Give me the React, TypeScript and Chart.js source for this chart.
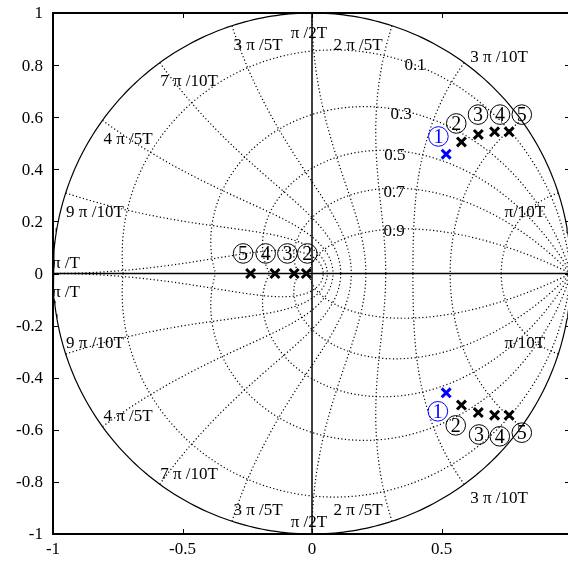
import React, { useEffect, useRef } from 'react';
import { Chart, registerables } from 'chart.js';

Chart.register(...registerables);

// ---- axis ticks ----
const xTicks = [-1, -0.5, 0, 0.5, 1];
const xTickLabels = ['-1', '-0.5', '0', '0.5', '1'];
const yTicks = [-1, -0.8, -0.6, -0.4, -0.2, 0, 0.2, 0.4, 0.6, 0.8, 1];
const yTickLabels = ['-1', '-0.8', '-0.6', '-0.4', '-0.2', '0', '0.2', '0.4', '0.6', '0.8', '1'];

// ---- z-plane grid ----
const zetaValues = [0.1, 0.3, 0.5, 0.7, 0.9];
const zetaLabels = ['0.1', '0.3', '0.5', '0.7', '0.9'];
const zetaLabelX = [0.398, 0.344, 0.32, 0.317, 0.317];
const zetaLabelY = [0.802, 0.614, 0.457, 0.315, 0.165];

const wnMultiples = [1, 2, 3, 4, 5, 6, 7, 8, 9, 10]; // wn*T = k*pi/10
const wnLabels = ['π/10T', '3 π /10T', '2 π /5T', 'π /2T', '3 π /5T', '7 π /10T', '4 π /5T', '9 π /10T', 'π /T'];
const wnLabelX = [0.822, 0.722, 0.178, -0.012, -0.208, -0.475, -0.71, -0.838, -0.95];
const wnLabelY = [0.251, 0.845, 0.893, 0.939, 0.893, 0.754, 0.532, 0.25, 0.056];

// ---- poles ----
const firstPoleX = [0.518, 0.518];
const firstPoleY = [0.458, -0.458];
const complexPoleX = [0.577, 0.642, 0.705, 0.761];
const complexPoleY = [0.505, 0.534, 0.544, 0.544];
const realPoleX = [-0.022, -0.069, -0.143, -0.237];

// ---- circled numbers ----
const upperNums = ['1', '2', '3', '4', '5'];
const upperNumX = [0.488, 0.557, 0.641, 0.726, 0.81];
const upperNumY = [0.526, 0.576, 0.61, 0.61, 0.61];
const lowerNumX = [0.486, 0.555, 0.645, 0.725, 0.81];
const lowerNumY = [-0.529, -0.583, -0.618, -0.625, -0.611];
const realNums = ['2', '3', '4', '5'];
const realNumX = [-0.018, -0.095, -0.179, -0.266];
const realNumY = [0.077, 0.077, 0.077, 0.077];

const FONT = '"Liberation Serif", "Times New Roman", serif';
const BLUE = '#0000ff';

function dampCurve(z: number, sign: number) {
  const pts: { x: number; y: number }[] = [];
  const N = 160;
  for (let i = 0; i <= N; i++) {
    const th = (Math.PI * i) / N;
    const r = Math.exp((-z * th) / Math.sqrt(1 - z * z));
    pts.push({ x: r * Math.cos(th), y: sign * r * Math.sin(th) });
  }
  return pts;
}

function freqCurve(k: number, sign: number) {
  const pts: { x: number; y: number }[] = [];
  const wn = (k * Math.PI) / 10;
  const N = 120;
  for (let i = 0; i <= N; i++) {
    const u = (Math.PI / 2) * (i / N);
    const zeta = Math.sin(u);
    const r = Math.exp(-wn * zeta);
    const ph = wn * Math.cos(u);
    pts.push({ x: r * Math.cos(ph), y: sign * r * Math.sin(ph) });
  }
  return pts;
}

function unitCircle() {
  const pts: { x: number; y: number }[] = [];
  const N = 360;
  for (let i = 0; i <= N; i++) {
    const a = (2 * Math.PI * i) / N;
    pts.push({ x: Math.cos(a), y: Math.sin(a) });
  }
  return pts;
}

const overlayPlugin = {
  id: 'overlay',
  afterDatasetsDraw(chart: any) {
    const { ctx, chartArea, scales } = chart;
    const xs = scales.x;
    const ys = scales.y;
    const { left, top, right, bottom } = chartArea;
    ctx.save();
    // frame
    ctx.strokeStyle = '#000';
    ctx.lineWidth = 2;
    ctx.strokeRect(left, top, right - left, bottom - top);
    // inward ticks
    ctx.lineWidth = 1;
    ctx.beginPath();
    xTicks.forEach((v) => {
      const px = Math.round(xs.getPixelForValue(v)) + 0.5;
      ctx.moveTo(px, bottom);
      ctx.lineTo(px, bottom - 5);
      ctx.moveTo(px, top);
      ctx.lineTo(px, top + 5);
    });
    yTicks.forEach((v) => {
      const py = Math.round(ys.getPixelForValue(v)) + 0.5;
      ctx.moveTo(left, py);
      ctx.lineTo(left + 6, py);
      ctx.moveTo(right, py);
      ctx.lineTo(right - 6, py);
    });
    ctx.stroke();

    // text is placed by its cap-height centre
    ctx.fillStyle = '#000';
    ctx.textAlign = 'center';
    ctx.textBaseline = 'alphabetic';
    const size = 17;
    ctx.font = `${size}px ${FONT}`;
    const capShift = size * 0.33;
    wnLabels.forEach((t, i) => {
      const px = xs.getPixelForValue(wnLabelX[i]);
      ctx.fillText(t, px, ys.getPixelForValue(wnLabelY[i]) + 3.5 + capShift);
      ctx.fillText(t, px, ys.getPixelForValue(-wnLabelY[i]) + 3.5 + capShift);
    });
    zetaLabels.forEach((t, i) => {
      ctx.fillText(t, xs.getPixelForValue(zetaLabelX[i]), ys.getPixelForValue(zetaLabelY[i]) + capShift);
    });

    // circled numbers
    const numSize = 20;
    const circled = (t: string, x: number, y: number, color: string) => {
      const px = xs.getPixelForValue(x);
      const py = ys.getPixelForValue(y);
      ctx.strokeStyle = color;
      ctx.fillStyle = color;
      ctx.lineWidth = 1;
      ctx.beginPath();
      ctx.arc(px, py, 9.8, 0, Math.PI * 2);
      ctx.stroke();
      ctx.font = `${numSize}px ${FONT}`;
      ctx.fillText(t, px, py + numSize * 0.335);
    };
    upperNums.forEach((t, i) => {
      const c = i === 0 ? BLUE : '#000';
      circled(t, upperNumX[i], upperNumY[i], c);
      circled(t, lowerNumX[i], lowerNumY[i], c);
    });
    realNums.forEach((t, i) => circled(t, realNumX[i], realNumY[i], '#000'));
    ctx.restore();
  },
};

export default function App() {
  const ref = useRef<HTMLCanvasElement>(null);
  useEffect(() => {
    if (!ref.current) return;
    const marker = (color: string) => ({
      showLine: false,
      pointStyle: 'crossRot',
      pointRadius: 6.3,
      pointBorderWidth: 3,
      pointBorderColor: color,
      pointBackgroundColor: color,
      borderColor: color,
    });
    const line = (data: any[], dash: number[], width: number) => ({
      data,
      showLine: true,
      pointRadius: 0,
      borderColor: '#000',
      borderWidth: width,
      borderDash: dash,
      fill: false,
      tension: 0,
    });
    const DOT = [1.2, 2.4];
    const datasets: any[] = [];
    datasets.push({ data: firstPoleX.map((x, i) => ({ x, y: firstPoleY[i] })), ...marker(BLUE) });
    datasets.push({
      data: [
        ...complexPoleX.map((x, i) => ({ x, y: complexPoleY[i] })),
        ...complexPoleX.map((x, i) => ({ x, y: -complexPoleY[i] })),
        ...realPoleX.map((x) => ({ x, y: 0 })),
      ],
      ...marker('#000'),
    });
    datasets.push(line([{ x: -1, y: 0 }, { x: 1, y: 0 }], [], 1.5));
    datasets.push(line([{ x: 0, y: -1 }, { x: 0, y: 1 }], [], 1.5));
    datasets.push(line(unitCircle(), [], 1.2));
    zetaValues.forEach((z) => {
      datasets.push(line(dampCurve(z, 1), DOT, 1.2));
      datasets.push(line(dampCurve(z, -1), DOT, 1.2));
    });
    wnMultiples.forEach((k) => {
      datasets.push(line(freqCurve(k, 1), DOT, 1.2));
      datasets.push(line(freqCurve(k, -1), DOT, 1.2));
    });

    const chart = new Chart(ref.current, {
      type: 'scatter',
      data: { datasets },
      options: {
        animation: false,
        responsive: false,
        maintainAspectRatio: false,
        devicePixelRatio: 1,
        layout: { padding: { left: 0, top: 13, right: 29, bottom: 0 } },
        plugins: { legend: { display: false }, tooltip: { enabled: false } },
        scales: {
          x: {
            type: 'linear',
            min: -1,
            max: 1,
            afterBuildTicks: (s: any) => {
              s.ticks = xTicks.map((v) => ({ value: v }));
            },
            afterFit: (s: any) => {
              s.height = 32;
              s.paddingLeft = 0;
              s.paddingRight = 0;
            },
            grid: { display: false, drawTicks: false },
            border: { display: false },
            ticks: {
              color: '#000',
              padding: 5,
              maxRotation: 0,
              autoSkip: false,
              font: { family: FONT, size: 17 },
              callback: (_v: any, i: number) => xTickLabels[i],
            },
          },
          y: {
            type: 'linear',
            min: -1,
            max: 1,
            afterBuildTicks: (s: any) => {
              s.ticks = yTicks.map((v) => ({ value: v }));
            },
            afterFit: (s: any) => {
              s.width = 53;
              s.paddingTop = 0;
              s.paddingBottom = 0;
            },
            grid: { display: false, drawTicks: false },
            border: { display: false },
            ticks: {
              color: '#000',
              padding: 10,
              labelOffset: 1,
              autoSkip: false,
              font: { family: FONT, size: 17 },
              callback: (_v: any, i: number) => yTickLabels[i],
            },
          },
        },
      },
      plugins: [overlayPlugin],
    } as any);
    return () => chart.destroy();
  }, []);
  return (
    <div
      style={{
        position: 'fixed',
        left: 0,
        top: 0,
        width: 568,
        height: 566,
        overflow: 'hidden',
        background: '#fff',
      }}
    >
      <canvas ref={ref} width={600} height={566} style={{ display: 'block', width: 600, height: 566 }} />
    </div>
  );
}
